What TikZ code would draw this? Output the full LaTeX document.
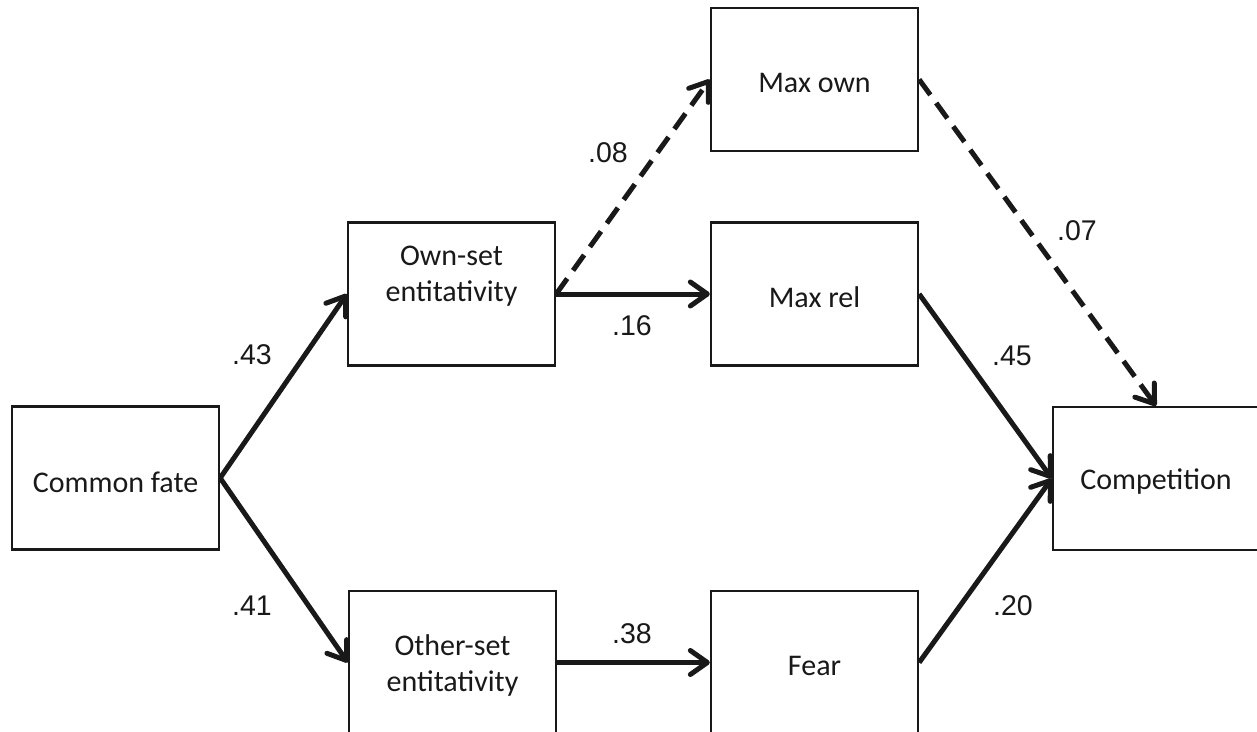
\documentclass[tikz,border=0pt]{standalone}
\usepackage{fontspec}
\setmainfont{Carlito}
\newfontfamily\arialfont{Liberation Sans}
\usetikzlibrary{arrows.meta}
\tikzset{
  box/.style={draw=black!90, line width=2.3pt, rectangle, inner sep=0pt, minimum width=#1, minimum height=143pt},
  box/.default=207pt,
  txt/.style={font=\fontsize{30}{36}\selectfont, align=center, inner sep=0pt, text=black!90},
  coef/.style={font=\arialfont\fontsize{28.5}{32}\selectfont, inner sep=0pt, text=black!90},
  path/.style={draw=black!90, line width=5pt, -{Straight Barb[length=17pt,width=24pt,line width=5pt,round]}},
  dpath/.style={path, dash pattern=on 19pt off 10pt}
}
\begin{document}
\begin{tikzpicture}[x=1pt,y=-1pt]
\clip (0,0) rectangle (1257,731);
\fill[white] (0,0) rectangle (1257,731);
% boxes
\node[box] (cf) at (115.5,478) {};
\node[box] (own) at (451.5,294) {};
\node[box] (oth) at (452.5,662.5) {};
\node[box] (mo) at (814.5,79.5) {};
\node[box] (mr) at (814.5,294) {};
\node[box] (fe) at (814.5,662.5) {};
\node[box=206pt] (co) at (1156,478.5) {};
% texts
\node[txt] (tcf) at (115.5,482) {Common fate};
\node[txt] (town) at (451.5,276) {Own-set\\entitativity};
\node[txt] (toth) at (452.5,665) {Other-set\\entitativity};
\node[txt] (tmo) at (814.5,83) {Max own};
\node[txt] (tmr) at (814.5,297) {Max rel};
\node[txt] (tfe) at (814.5,666) {Fear};
\node[txt] (tco) at (1156,482) {Competition};
% connectors
\draw[path] (cf.east) -- (own.west);
\draw[path] (cf.east) -- (oth.west);
\draw[path] (own.east) -- (mr.west);
\draw[dpath] (own.east) -- (mo.west);
\draw[path] (oth.east) -- (fe.west);
\draw[dpath] (mo.east) -- (co.north);
\draw[path] (mr.east) -- (co.west);
\draw[path] (fe.east) -- (co.west);
% coefficients
\node[coef] (c43) at (252,355) {.43};
\node[coef] (c41) at (252,606) {.41};
\node[coef] (c16) at (632,326) {.16};
\node[coef] (c08) at (608,153) {.08};
\node[coef] (c38) at (632,634) {.38};
\node[coef] (c07) at (1077,231) {.07};
\node[coef] (c45) at (1012,356) {.45};
\node[coef] (c20) at (1013,606) {.20};
\end{tikzpicture}
\end{document}
